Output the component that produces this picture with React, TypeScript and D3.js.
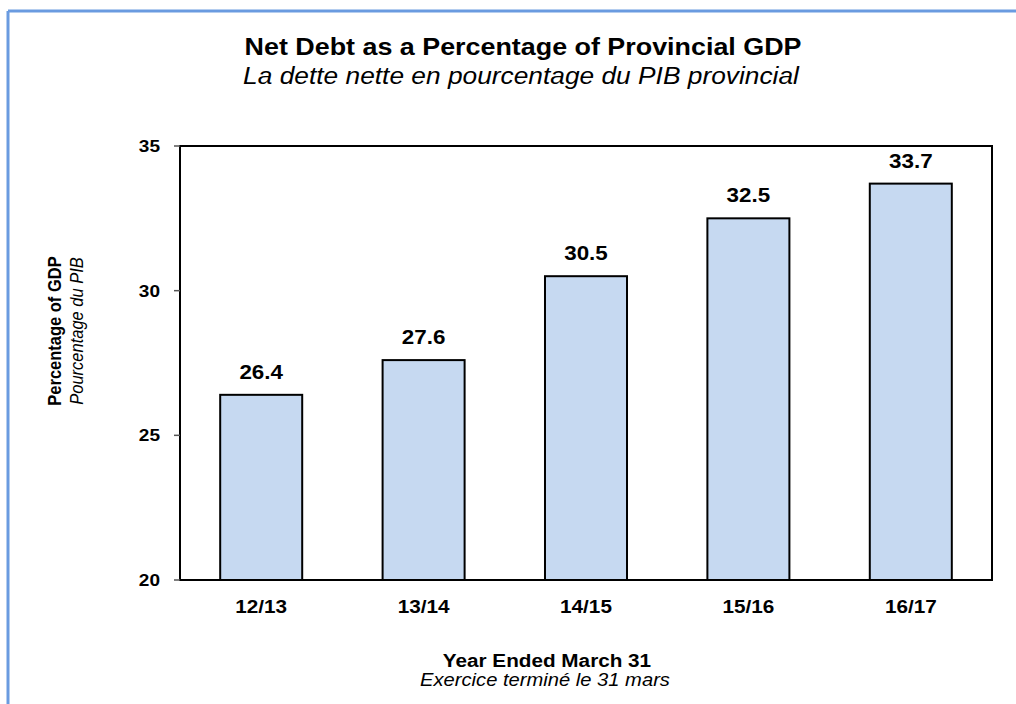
import React from "react";
import * as d3 from "d3";

const categories = ["12/13", "13/14", "14/15", "15/16", "16/17"];
const values = [26.4, 27.6, 30.5, 32.5, 33.7];
const yTicks = [20, 25, 30, 35];

const W = 1016;
const H = 704;
const plot = { left: 180, right: 992, top: 146, bottom: 580 };
const FONT = "Arial, 'Liberation Sans', Helvetica, sans-serif";
const SX = 1.12; // horizontal stretch of glyphs seen in the reference

type TProps = {
  x: number;
  y: number;
  size: number;
  anchor?: "start" | "middle" | "end";
  bold?: boolean;
  italic?: boolean;
  rotate?: boolean;
  children: React.ReactNode;
};

function T({ x, y, size, anchor = "middle", bold, italic, rotate, children }: TProps) {
  const tf = `translate(${x},${y}) scale(${SX},1)` + (rotate ? " rotate(-90)" : "");
  return (
    <text
      transform={tf}
      textAnchor={anchor}
      fontSize={size}
      fontWeight={bold ? "bold" : "normal"}
      fontStyle={italic ? "italic" : "normal"}
      fill="#000"
    >
      {children}
    </text>
  );
}

export default function App() {
  const x = d3
    .scaleBand<string>()
    .domain(categories)
    .range([plot.left, plot.right])
    .paddingInner(0.495)
    .paddingOuter(0.2475);
  const y = d3.scaleLinear().domain([20, 35]).range([plot.bottom, plot.top]);
  const yMid = 331;

  return (
    <svg
      width={W}
      height={H}
      style={{ position: "absolute", left: 0, top: 0, background: "#fff" }}
      fontFamily={FONT}
    >
      <rect x={0} y={0} width={W} height={H} fill="#fff" />
      {/* outer border (left and top) */}
      <line x1={8} y1={11} x2={8} y2={H} stroke="#6a9be0" strokeWidth={3} />
      <line x1={8} y1={11} x2={W} y2={11} stroke="#6a9be0" strokeWidth={3} />

      {/* titles */}
      <T x={523} y={55} size={24} bold>
        Net Debt as a Percentage of Provincial GDP
      </T>
      <T x={521} y={84} size={23.5} italic>
        La dette nette en pourcentage du PIB provincial
      </T>

      {/* bars */}
      {categories.map((c, i) => (
        <rect
          key={c}
          x={x(c)}
          y={y(values[i])}
          width={x.bandwidth()}
          height={y(20) - y(values[i])}
          fill="#c6d9f1"
          stroke="#000"
          strokeWidth={2}
        />
      ))}

      {/* plot frame */}
      <rect
        x={plot.left}
        y={plot.top}
        width={plot.right - plot.left}
        height={plot.bottom - plot.top}
        fill="none"
        stroke="#000"
        strokeWidth={2}
      />

      {/* y ticks */}
      {yTicks.map((t) => (
        <g key={t}>
          <line x1={plot.left - 6} x2={plot.left} y1={y(t)} y2={y(t)} stroke="#555" strokeWidth={1.5} />
          <T x={160} y={y(t) + 6} size={17} anchor="end" bold>
            {t}
          </T>
        </g>
      ))}

      {/* value labels */}
      {categories.map((c, i) => (
        <T key={c} x={(x(c) as number) + x.bandwidth() / 2} y={y(values[i]) - 16} size={20} bold>
          {values[i].toFixed(1)}
        </T>
      ))}

      {/* category labels */}
      {categories.map((c) => (
        <T key={c} x={(x(c) as number) + x.bandwidth() / 2} y={plot.bottom + 33} size={18.5} bold>
          {c}
        </T>
      ))}

      {/* x axis title */}
      <T x={547} y={667} size={18.5} bold>
        Year Ended March 31
      </T>
      <T x={545} y={686} size={18} italic>
        Exercice terminé le 31 mars
      </T>

      {/* y axis title */}
      <T x={61} y={yMid} size={16.5} bold rotate>
        Percentage of GDP
      </T>
      <T x={83} y={yMid} size={16.5} italic rotate>
        Pourcentage du PIB
      </T>
    </svg>
  );
}
